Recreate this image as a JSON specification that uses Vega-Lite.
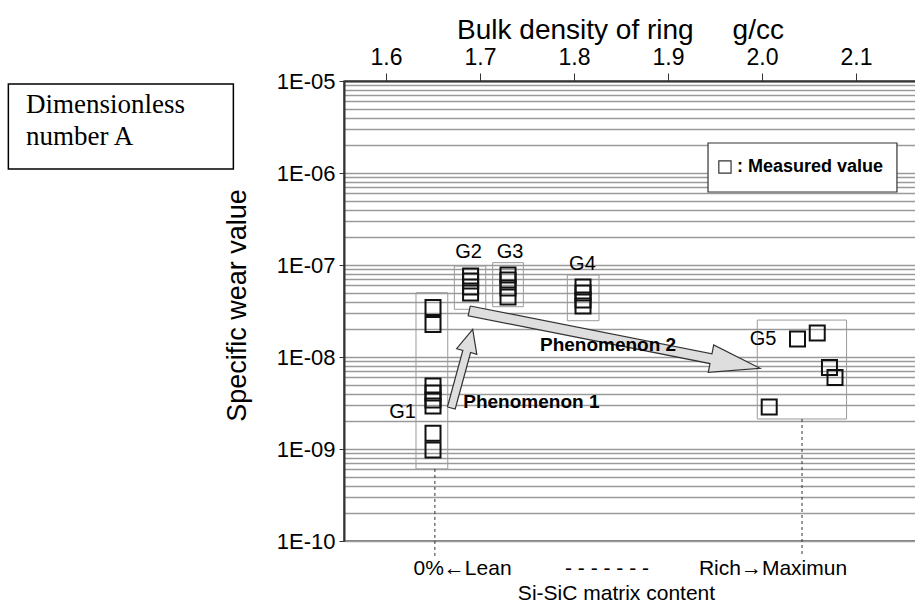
{
  "$schema": "https://vega.github.io/schema/vega-lite/v6.json",
  "width": 574,
  "height": 460,
  "autosize": {"type": "none"},
  "padding": {"left": 344, "top": 81, "right": 0, "bottom": 74},
  "background": "white",
  "config": {
    "font": "Liberation Sans",
    "view": {"stroke": "#555", "strokeWidth": 1.5}
  },
  "datasets": {
    "boxes": [
      {"group": "G1", "x": 1.6319, "x2": 1.6657, "y": 5.0e-8, "y2": 6.07e-10},
      {"group": "G2", "x": 1.6727, "x2": 1.7061, "y": 9.75e-8, "y2": 3.3e-8},
      {"group": "G3", "x": 1.7135, "x2": 1.7461, "y": 1.06e-7, "y2": 3.52e-8},
      {"group": "G4", "x": 1.7929, "x2": 1.8266, "y": 7.79e-8, "y2": 2.48e-8},
      {"group": "G5", "x": 1.995, "x2": 2.09, "y": 2.52e-8, "y2": 2.12e-9}
    ],
    "points": [
      {"group": "G1", "x": 1.65, "y": 3.45e-8},
      {"group": "G1", "x": 1.65, "y": 2.26e-8},
      {"group": "G1", "x": 1.65, "y": 4.84e-9},
      {"group": "G1", "x": 1.65, "y": 4.06e-9},
      {"group": "G1", "x": 1.65, "y": 3.41e-9},
      {"group": "G1", "x": 1.65, "y": 2.93e-9},
      {"group": "G1", "x": 1.65, "y": 1.48e-9},
      {"group": "G1", "x": 1.65, "y": 9.75e-10},
      {"group": "G2", "x": 1.69, "y": 7.59e-8},
      {"group": "G2", "x": 1.69, "y": 6.7e-8},
      {"group": "G2", "x": 1.69, "y": 5.77e-8},
      {"group": "G2", "x": 1.69, "y": 4.96e-8},
      {"group": "G3", "x": 1.7298, "y": 7.79e-8},
      {"group": "G3", "x": 1.7298, "y": 6.87e-8},
      {"group": "G3", "x": 1.7298, "y": 5.62e-8},
      {"group": "G3", "x": 1.7298, "y": 4.49e-8},
      {"group": "G4", "x": 1.8096, "y": 5.77e-8},
      {"group": "G4", "x": 1.8096, "y": 4.96e-8},
      {"group": "G4", "x": 1.8096, "y": 4.17e-8},
      {"group": "G4", "x": 1.8096, "y": 3.58e-8},
      {"group": "G5", "x": 2.0378, "y": 1.57e-8},
      {"group": "G5", "x": 2.0588, "y": 1.82e-8},
      {"group": "G5", "x": 2.0718, "y": 7.69e-9},
      {"group": "G5", "x": 2.0777, "y": 5.99e-9},
      {"group": "G5", "x": 2.0077, "y": 2.86e-9}
    ],
    "groupLabels": [
      {"x": 1.6176, "y": 2.52e-9, "text": "G1"},
      {"x": 1.6878, "y": 1.385e-7, "text": "G2"},
      {"x": 1.7319, "y": 1.385e-7, "text": "G3"},
      {"x": 1.809, "y": 1.025e-7, "text": "G4"},
      {"x": 2.0011, "y": 1.55e-8, "text": "G5"}
    ],
    "arrows": [
      {"arrow": "Phenomenon 1", "order": 1, "x": 1.66532, "y": 2.861e-9},
      {"arrow": "Phenomenon 1", "order": 2, "x": 1.6817, "y": 1.1767e-8},
      {"arrow": "Phenomenon 1", "order": 3, "x": 1.67511, "y": 1.2308e-8},
      {"arrow": "Phenomenon 1", "order": 4, "x": 1.69223, "y": 2.0e-8},
      {"arrow": "Phenomenon 1", "order": 5, "x": 1.6966, "y": 1.0697e-8},
      {"arrow": "Phenomenon 1", "order": 6, "x": 1.69, "y": 1.119e-8},
      {"arrow": "Phenomenon 1", "order": 7, "x": 1.67362, "y": 2.722e-9},
      {"arrow": "Phenomenon 1", "order": 8, "x": 1.66532, "y": 2.861e-9},
      {"arrow": "Phenomenon 2", "order": 1, "x": 1.68957, "y": 3.583e-8},
      {"arrow": "Phenomenon 2", "order": 2, "x": 1.94681, "y": 1.0834e-8},
      {"arrow": "Phenomenon 2", "order": 3, "x": 1.94862, "y": 1.3504e-8},
      {"arrow": "Phenomenon 2", "order": 4, "x": 1.99787, "y": 7.538e-9},
      {"arrow": "Phenomenon 2", "order": 5, "x": 1.94287, "y": 6.803e-9},
      {"arrow": "Phenomenon 2", "order": 6, "x": 1.94468, "y": 8.48e-9},
      {"arrow": "Phenomenon 2", "order": 7, "x": 1.68745, "y": 2.804e-8},
      {"arrow": "Phenomenon 2", "order": 8, "x": 1.68957, "y": 3.583e-8}
    ],
    "phenLabels": [
      {"x": 1.6822, "y": 3.24e-9, "text": "Phenomenon 1"},
      {"x": 1.7638, "y": 1.334e-8, "text": "Phenomenon 2"}
    ],
    "dashes": [
      {"x": 1.652, "y": 6.07e-10, "y2": 6.7e-11},
      {"x": 2.0426, "y": 2.12e-9, "y2": 6.7e-11}
    ],
    "bottomText": [
      {"x": 1.6814, "y": 4.96e-11, "text": "0%←Lean"},
      {"x": 1.8351, "y": 4.96e-11, "text": "- - - - - - -"},
      {"x": 2.0117, "y": 4.96e-11, "text": "Rich→Maximun"},
      {"x": 1.8452, "y": 2.655e-11, "text": "Si-SiC matrix content"}
    ],
    "legendBox": [
      {"x": 1.9426, "x2": 2.1436, "y": 2.12e-6, "y2": 6.215e-7}
    ],
    "legendSymbol": [
      {"x": 1.9606, "y": 1.162e-6}
    ],
    "legendText": [
      {"x": 1.9734, "y": 1.162e-6, "text": ": Measured value"}
    ],
    "noteBox": [
      {"x": 1.1982, "x2": 1.4376, "y": 9.277e-6, "y2": 1.105e-6}
    ],
    "noteText": [
      {"x": 1.217, "y": 4.457e-6, "text": "Dimensionless"},
      {"x": 1.217, "y": 2.015e-6, "text": "number A"}
    ]
  },
  "layer": [
    {
      "data": {"name": "boxes"},
      "mark": {"type": "rect", "fill": null, "stroke": "#9a9a9a", "strokeWidth": 1},
      "encoding": {
        "x": {
          "field": "x", "type": "quantitative",
          "scale": {"domain": [1.5553, 2.166], "nice": false, "zero": false},
          "axis": {
            "orient": "top",
            "values": [1.6, 1.7, 1.8, 1.9, 2.0, 2.1],
            "format": ".1f",
            "grid": false,
            "tickSize": 8,
            "tickColor": "#333",
            "tickWidth": 1,
            "domainColor": "#333",
            "domainWidth": 2,
            "labelFontSize": 23,
            "labelColor": "black",
            "labelPadding": 4,
            "labelFlush": false,
            "labelOverlap": false,
            "title": "Bulk density of ring\u00a0\u00a0\u00a0\u00a0 g/cc",
            "titleFontSize": 28,
            "titleFontWeight": "normal",
            "titleColor": "black",
            "titlePadding": 2,
            "titleX": 276
          }
        },
        "x2": {"field": "x2"},
        "y": {
          "field": "y", "type": "quantitative",
          "scale": {"type": "log", "domain": [1e-10, 1e-5], "nice": false},
          "axis": {
            "orient": "left",
            "values": [1e-10, 2e-10, 3e-10, 4e-10, 5e-10, 6e-10, 7e-10, 8e-10, 9e-10,
                       1e-9, 2e-9, 3e-9, 4e-9, 5e-9, 6e-9, 7e-9, 8e-9, 9e-9,
                       1e-8, 2e-8, 3e-8, 4e-8, 5e-8, 6e-8, 7e-8, 8e-8, 9e-8,
                       1e-7, 2e-7, 3e-7, 4e-7, 5e-7, 6e-7, 7e-7, 8e-7, 9e-7,
                       1e-6, 2e-6, 3e-6, 4e-6, 5e-6, 6e-6, 7e-6, 8e-6, 9e-6, 1e-5],
            "labelExpr": "abs(log(datum.value)/LN10 - round(log(datum.value)/LN10)) < 0.001 ? '1E-' + (round(-log(datum.value)/LN10) < 10 ? '0' : '') + round(-log(datum.value)/LN10) : ''",
            "grid": true,
            "gridColor": "#9a9a9a",
            "gridWidth": 1.4,
            "tickSize": 5,
            "tickColor": "#333",
            "tickOpacity": {"condition": {"test": "abs(log(datum.value)/LN10 - round(log(datum.value)/LN10)) < 0.001", "value": 1}, "value": 0},
            "domainColor": "#333",
            "domainWidth": 2,
            "labelFontSize": 22,
            "labelColor": "black",
            "labelPadding": 4,
            "labelFlush": false,
            "labelOverlap": false,
            "title": "Specific wear value",
            "titleFontSize": 27,
            "titleFontWeight": "normal",
            "titleColor": "black",
            "titlePadding": 25,
            "titleY": 224
          }
        },
        "y2": {"field": "y2"}
      }
    },
    {
      "data": {"name": "dashes"},
      "mark": {"type": "rule", "stroke": "#333", "strokeWidth": 1, "strokeDash": [3, 3], "clip": false},
      "encoding": {
        "x": {"field": "x", "type": "quantitative"},
        "y": {"field": "y", "type": "quantitative"},
        "y2": {"field": "y2"}
      }
    },
    {
      "data": {"name": "arrows"},
      "mark": {"type": "line", "fill": "#dedede", "stroke": "#333", "strokeWidth": 1.2, "strokeJoin": "miter"},
      "encoding": {
        "x": {"field": "x", "type": "quantitative"},
        "y": {"field": "y", "type": "quantitative"},
        "detail": {"field": "arrow"},
        "order": {"field": "order", "type": "quantitative"}
      }
    },
    {
      "data": {"name": "points"},
      "mark": {"type": "point", "shape": "square", "filled": false, "size": 225, "stroke": "#111", "strokeWidth": 2, "opacity": 1},
      "encoding": {
        "x": {"field": "x", "type": "quantitative"},
        "y": {"field": "y", "type": "quantitative"}
      }
    },
    {
      "data": {"name": "groupLabels"},
      "mark": {"type": "text", "fontSize": 20, "align": "center", "baseline": "middle", "color": "black"},
      "encoding": {
        "x": {"field": "x", "type": "quantitative"},
        "y": {"field": "y", "type": "quantitative"},
        "text": {"field": "text"}
      }
    },
    {
      "data": {"name": "phenLabels"},
      "mark": {"type": "text", "fontSize": 19, "fontWeight": "bold", "align": "left", "baseline": "middle", "color": "black"},
      "encoding": {
        "x": {"field": "x", "type": "quantitative"},
        "y": {"field": "y", "type": "quantitative"},
        "text": {"field": "text"}
      }
    },
    {
      "data": {"name": "bottomText"},
      "mark": {"type": "text", "fontSize": 21, "align": "center", "baseline": "middle", "color": "black", "clip": false},
      "encoding": {
        "x": {"field": "x", "type": "quantitative"},
        "y": {"field": "y", "type": "quantitative"},
        "text": {"field": "text"}
      }
    },
    {
      "data": {"name": "legendBox"},
      "mark": {"type": "rect", "fill": "white", "stroke": "#333", "strokeWidth": 1.2},
      "encoding": {
        "x": {"field": "x", "type": "quantitative"},
        "x2": {"field": "x2"},
        "y": {"field": "y", "type": "quantitative"},
        "y2": {"field": "y2"}
      }
    },
    {
      "data": {"name": "legendSymbol"},
      "mark": {"type": "point", "shape": "square", "filled": false, "size": 150, "stroke": "#333", "strokeWidth": 1.2, "opacity": 1},
      "encoding": {
        "x": {"field": "x", "type": "quantitative"},
        "y": {"field": "y", "type": "quantitative"}
      }
    },
    {
      "data": {"name": "legendText"},
      "mark": {"type": "text", "fontSize": 18, "fontWeight": "bold", "align": "left", "baseline": "middle", "color": "black"},
      "encoding": {
        "x": {"field": "x", "type": "quantitative"},
        "y": {"field": "y", "type": "quantitative"},
        "text": {"field": "text"}
      }
    },
    {
      "data": {"name": "noteBox"},
      "mark": {"type": "rect", "fill": "white", "stroke": "black", "strokeWidth": 1.5, "clip": false},
      "encoding": {
        "x": {"field": "x", "type": "quantitative"},
        "x2": {"field": "x2"},
        "y": {"field": "y", "type": "quantitative"},
        "y2": {"field": "y2"}
      }
    },
    {
      "data": {"name": "noteText"},
      "mark": {"type": "text", "font": "Liberation Serif", "fontSize": 27, "align": "left", "baseline": "alphabetic", "color": "black", "clip": false},
      "encoding": {
        "x": {"field": "x", "type": "quantitative"},
        "y": {"field": "y", "type": "quantitative"},
        "text": {"field": "text"}
      }
    }
  ]
}
